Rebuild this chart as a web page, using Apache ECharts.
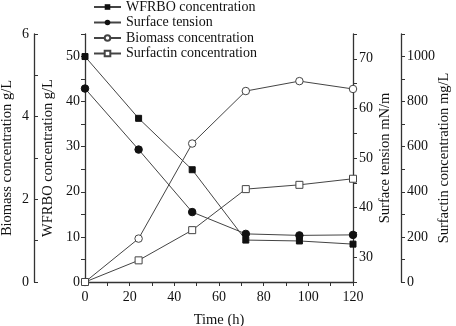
<!DOCTYPE html>
<html>
<head>
<meta charset="utf-8">
<script src="https://cdn.jsdelivr.net/npm/echarts@6/dist/echarts.min.js"></script>
<style>html,body{margin:0;padding:0;background:#fff;}#c{width:456px;height:326px;}</style>
</head>
<body>
<div id="c"></div>
<script>
var times = [0, 24, 48, 72, 96, 120];
var wfrbo = [50, 36.3, 24.9, 9.3, 9.1, 8.4];
var surfaceTension = [64, 51.7, 39.1, 34.7, 34.4, 34.5];
var biomass = [0, 1.05, 3.35, 4.62, 4.86, 4.67];
var surfactin = [0, 96, 230, 412, 431, 458];
var seriesNames = ['WFRBO concentration', 'Surface tension', 'Biomass concentration', 'Surfactin concentration'];
var axisNames = ['WFRBO concentration g/L', 'Biomass concentration g/L', 'Surface tension mN/m', 'Surfactin concentration mg/L', 'Time (h)'];

var FONT = '"Liberation Serif", "Times New Roman", serif';
var TXT = '#111';
var AX = '#333';
var FS = 14;
var NFS = 14.5;

function pairs(vals) { return times.map(function (t, i) { return [t, vals[i]]; }); }
function everyN(n) { return function (v) { return (Math.abs(v % n) < 1e-6) ? String(v) : ''; }; }

function yAx(o) {
  return Object.assign({
    type: 'value',
    nameLocation: 'middle',
    nameRotate: 90,
    nameMoveOverlap: false,
    nameTextStyle: { fontFamily: FONT, fontSize: NFS, color: TXT },
    axisLine: { show: true, lineStyle: { color: AX, width: 1.3 } },
    axisTick: { show: true, length: 4, lineStyle: { color: AX, width: 1 } },
    splitLine: { show: false }
  }, o);
}

var chart = echarts.init(document.getElementById('c'), null, { renderer: 'canvas' });
var lineStyle = { color: '#444', width: 1 };
chart.setOption({
  animation: false,
  backgroundColor: '#fff',
  textStyle: { fontFamily: FONT },
  grid: { left: 85, right: 103, top: 34, bottom: 44, containLabel: false, outerBoundsMode: 'none' },
  legend: {
    orient: 'vertical', left: 93, top: 0, padding: 0,
    itemWidth: 27, itemHeight: 7, itemGap: 1.5,
    textStyle: { fontFamily: FONT, fontSize: FS, color: TXT },
    data: seriesNames
  },
  xAxis: {
    type: 'value', min: 0, max: 120, interval: 10,
    name: axisNames[4], nameLocation: 'middle', nameGap: 31, nameMoveOverlap: false,
    nameTextStyle: { fontFamily: FONT, fontSize: NFS, color: TXT },
    axisLine: { show: true, onZero: false, lineStyle: { color: AX, width: 1.3 } },
    axisTick: { show: true, length: 4, lineStyle: { color: AX } },
    axisLabel: { fontFamily: FONT, fontSize: FS, color: TXT, margin: 8, formatter: everyN(20) },
    splitLine: { show: false }
  },
  yAxis: [
    yAx({ name: axisNames[0], position: 'left', offset: 0, min: 0, max: 55, interval: 5, nameGap: 29,
          axisLabel: { fontFamily: FONT, fontSize: FS, color: TXT, margin: 5, formatter: everyN(10) } }),
    yAx({ name: axisNames[1], position: 'left', offset: 51, min: 0, max: 6, interval: 1, nameGap: 19,
          axisTick: { show: true, inside: true, length: 4, lineStyle: { color: AX } },
          axisLabel: { fontFamily: FONT, fontSize: FS, color: TXT, margin: 5, formatter: everyN(2) } }),
    yAx({ name: axisNames[2], position: 'right', offset: 0, min: 25, max: 75, interval: 5, nameGap: 25,
          axisLabel: { fontFamily: FONT, fontSize: FS, color: TXT, margin: 6, formatter: everyN(10) } }),
    yAx({ name: axisNames[3], position: 'right', offset: 48, min: 0, max: 1100, interval: 100, nameGap: 36,
          axisLabel: { fontFamily: FONT, fontSize: FS, color: TXT, margin: 6, formatter: everyN(200) } })
  ],
  series: [
    { name: seriesNames[0], type: 'line', yAxisIndex: 0, data: pairs(wfrbo), symbol: 'rect', symbolSize: 6,
      lineStyle: lineStyle, itemStyle: { color: '#111', borderColor: '#111' } },
    { name: seriesNames[1], type: 'line', yAxisIndex: 2, data: pairs(surfaceTension), symbol: 'circle', symbolSize: 7.5,
      lineStyle: lineStyle, itemStyle: { color: '#111', borderColor: '#111' } },
    { name: seriesNames[2], type: 'line', yAxisIndex: 1, data: pairs(biomass), symbol: 'circle', symbolSize: 7.5,
      lineStyle: lineStyle, itemStyle: { color: '#fff', borderColor: '#444', borderWidth: 1 } },
    { name: seriesNames[3], type: 'line', yAxisIndex: 3, data: pairs(surfactin), symbol: 'rect', symbolSize: 7,
      lineStyle: lineStyle, itemStyle: { color: '#fff', borderColor: '#444', borderWidth: 1 } }
  ]
});
</script>
</body>
</html>
